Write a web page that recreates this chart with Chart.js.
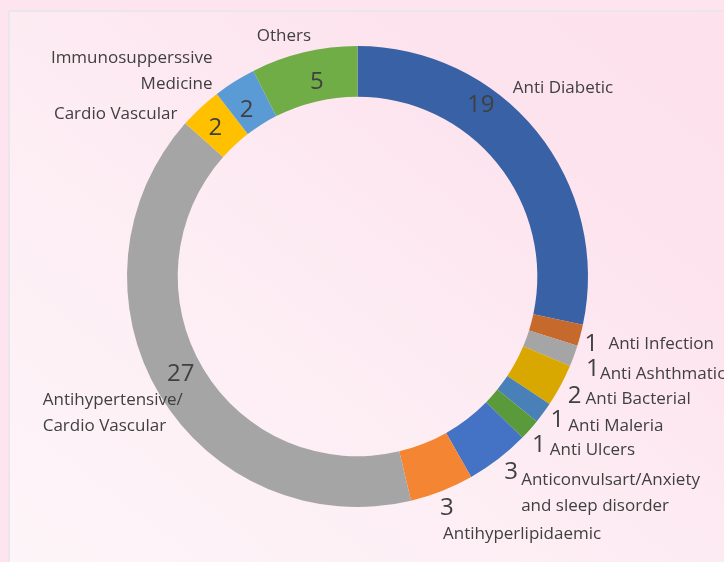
<!DOCTYPE html>
<html>
<head>
<meta charset="utf-8">
<script src="https://cdn.jsdelivr.net/npm/chart.js@4.4.0/dist/chart.umd.min.js"></script>
<style>
	html, body { margin:0; padding:0; width:724px; height:562px; overflow:hidden; background:#fde4ee; }
	#frame { position:absolute; left:8px; top:10px; width:740px; height:580px; border:2px solid #ebe6ea;
			 background:linear-gradient(to top right, #fdf5f9 0%, #fdeef4 40%, #fde3ee 75%, #fde2ed 100%); }
	#TherapyChart { position:absolute; left:0; top:0; }
</style>
</head>
<body>
<div id="frame"></div>
<canvas id="TherapyChart" width="724" height="562"></canvas>
<script>
/* =========================================================== DATA START =========================================================== */
var ChartLabels = ["Anti Diabetic","Anti Infection","Anti Ashthmatic","Anti Bacterial","Anti Maleria","Anti Ulcers",
				   "Anticonvulsart/Anxiety\nand sleep disorder","Antihyperlipidaemic","Antihypertensive/\nCardio Vascular",
				   "Cardio Vascular","Immunosupperssive\nMedicine","Others"];
var ChartValues = [19,1,1,2,1,1,3,3,27,2,2,5];
var ChartColors = ["#3862a5","#c6692c","#a5a5a5","#d9a800","#4a80b8","#5b9a3a",
				   "#4472c4","#f48532","#a5a5a5","#ffc000","#5b9bd5","#70ad47"];
/* =========================================================== DATA END =========================================================== */

//label placement, relative to the outer edge of each slice at its middle angle
//[valueDx, valueDy, nameDx, nameDy, nameAlign]
var LabelPlacement = [
	[-56,-26,-24,-43,'left'],
	[11,9,28,9,'left'],
	[19,13,26,18,'left'],
	[14,11,25,14,'left'],
	[14,7,25,13,'left'],
	[9,15,20,20,'left'],
	[13,13,23,21,'left'],
	[5,17,1,43,'left'],
	[21,-21,-117,5,'left'],
	[15,20,-23,6,'right'],
	[12,29,-22,-23,'right'],
	[13,30,-20,-16,'center']
];

var SliceLabelsPlugin =
{
	id:'sliceLabels',
	afterDatasetsDraw: function(chart)
	{
		var ctx = chart.ctx;
		var meta = chart.getDatasetMeta(0);
		ctx.save();
		ctx.fillStyle = '#404040';
		ctx.textBaseline = 'middle';
		meta.data.forEach(function(arc,i)
		{
			var p = arc.getProps(['x','y','startAngle','endAngle','outerRadius'],true);
			var mid = (p.startAngle+p.endAngle)/2;
			var ax = p.x+Math.cos(mid)*p.outerRadius;
			var ay = p.y+Math.sin(mid)*p.outerRadius;
			var place = LabelPlacement[i];

			ctx.font = '24px "Open Sans"';
			ctx.textAlign = 'center';
			ctx.fillText(String(ChartValues[i]),ax+place[0],ay+place[1]);

			ctx.font = '17px "Open Sans"';
			ctx.textAlign = place[4];
			ChartLabels[i].split('\n').forEach(function(line,n)
			{
				ctx.fillText(line,ax+place[2],ay+place[3]+n*26);
			});
		});
		ctx.restore();
	}
};

var TherapyChart = new Chart(document.getElementById('TherapyChart'), {
	type:'doughnut',
	data:{
		labels:ChartLabels,
		datasets:[{
			data:ChartValues,
			backgroundColor:ChartColors,
			borderWidth:0
		}]
	},
	options:{
		responsive:false,
		animation:false,
		cutout:'78%',
		layout:{padding:{top:46,bottom:55,left:0,right:9}},
		plugins:{
			legend:{display:false},
			tooltip:{enabled:false}
		}
	},
	plugins:[SliceLabelsPlugin]
});
</script>
</body>
</html>
